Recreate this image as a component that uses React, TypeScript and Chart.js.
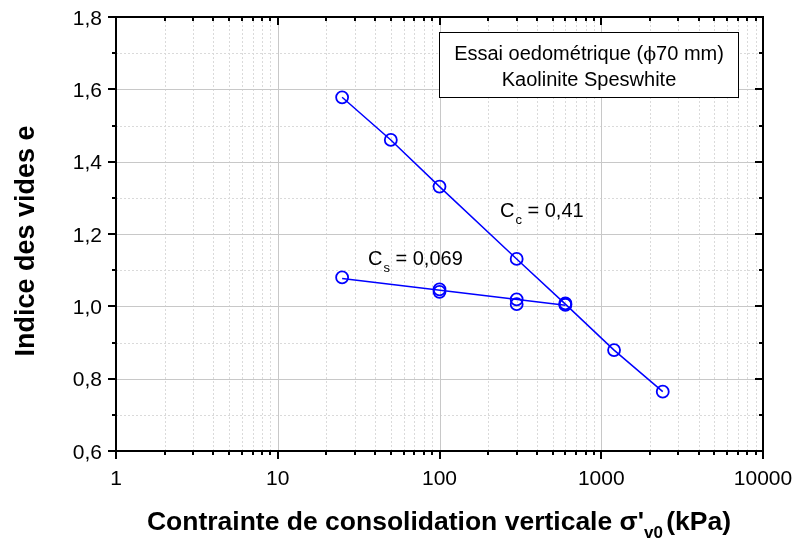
import React, { useEffect, useRef } from "react";
import { Chart, registerables } from "chart.js";

Chart.register(...registerables);

// ---- data ----
const loadStress = [25, 50, 100, 300, 600, 1200, 2400];
const loadVoid = [1.578, 1.46, 1.331, 1.131, 1.006, 0.879, 0.764];

const unloadStress = [600, 600, 300, 300, 100, 100, 25];
const unloadVoid = [1.008, 1.004, 1.019, 1.006, 1.047, 1.04, 1.08];

const unloadFitStress = [25, 600];
const unloadFitVoid = [1.077, 1.003];

const xTickValues = [1, 10, 100, 1000, 10000];
const xTickLabels = ["1", "10", "100", "1000", "10000"];
const yTickValues = [0.6, 0.8, 1.0, 1.2, 1.4, 1.6, 1.8];
const yTickLabels = ["0,6", "0,8", "1,0", "1,2", "1,4", "1,6", "1,8"];

const legendLine1 = ["Essai oedométrique (", "ϕ", "70 mm)"];
const legendLine2 = "Kaolinite Speswhite";
const ccLabel = ["C", "c", " = 0,41"];
const csLabel = ["C", "s", " = 0,069"];
const xTitle = ["Contrainte de consolidation verticale σ'", "v0", " (kPa)"];
const yTitle = "Indice des vides e";

const SANS = "'Liberation Sans', Arial, sans-serif";
const SERIF = "'DejaVu Serif', 'Liberation Serif', serif";
const BLUE = "#0000ff";

const toPts = (xs: number[], ys: number[]) => xs.map((v, i) => ({ x: v, y: ys[i] }));

function drawSubLabel(ctx: CanvasRenderingContext2D, parts: string[], x: number, y: number) {
  ctx.textBaseline = "middle";
  ctx.textAlign = "left";
  ctx.fillStyle = "#000";
  ctx.font = `20px ${SANS}`;
  ctx.fillText(parts[0], x, y);
  let cx = x + ctx.measureText(parts[0]).width;
  ctx.font = `13px ${SANS}`;
  ctx.fillText(parts[1], cx + 1, y + 9);
  cx += ctx.measureText(parts[1]).width + 1;
  ctx.font = `20px ${SANS}`;
  ctx.fillText(parts[2], cx, y);
}

const customPlugin = {
  id: "custom",
  beforeDatasetsDraw(chart: any) {
    const { ctx, chartArea: a, scales } = chart;
    const xs = scales.x;
    const ys = scales.y;
    ctx.save();
    ctx.lineWidth = 1;
    // minor grid dotted
    ctx.strokeStyle = "#dadada";
    ctx.setLineDash([2, 2]);
    for (let i = 0; i < xTickValues.length - 1; i++) {
      for (let m = 2; m <= 9; m++) {
        const px = Math.round(xs.getPixelForValue(xTickValues[i] * m)) + 0.5;
        ctx.beginPath();
        ctx.moveTo(px, a.top);
        ctx.lineTo(px, a.bottom);
        ctx.stroke();
      }
    }
    for (let i = 0; i < yTickValues.length - 1; i++) {
      const py = Math.round(ys.getPixelForValue((yTickValues[i] + yTickValues[i + 1]) / 2)) + 0.5;
      ctx.beginPath();
      ctx.moveTo(a.left, py);
      ctx.lineTo(a.right, py);
      ctx.stroke();
    }
    // major grid solid
    ctx.setLineDash([]);
    ctx.strokeStyle = "#c8c8c8";
    xTickValues.forEach((v) => {
      const px = Math.round(xs.getPixelForValue(v)) + 0.5;
      ctx.beginPath();
      ctx.moveTo(px, a.top);
      ctx.lineTo(px, a.bottom);
      ctx.stroke();
    });
    yTickValues.forEach((v) => {
      const py = Math.round(ys.getPixelForValue(v)) + 0.5;
      ctx.beginPath();
      ctx.moveTo(a.left, py);
      ctx.lineTo(a.right, py);
      ctx.stroke();
    });
    ctx.restore();
  },
  afterDatasetsDraw(chart: any) {
    const { ctx, chartArea: a, scales } = chart;
    const xs = scales.x;
    const ys = scales.y;
    ctx.save();
    // ticks
    ctx.strokeStyle = "#000";
    ctx.lineWidth = 2;
    const MAJ = 8;
    const MIN = 4;
    const xTick = (v: number, len: number) => {
      const px = Math.round(xs.getPixelForValue(v));
      ctx.beginPath();
      ctx.moveTo(px, a.bottom);
      ctx.lineTo(px, a.bottom + len);
      ctx.moveTo(px, a.top);
      ctx.lineTo(px, a.top + len);
      ctx.stroke();
    };
    const yTick = (v: number, len: number) => {
      const py = Math.round(ys.getPixelForValue(v));
      ctx.beginPath();
      ctx.moveTo(a.left, py);
      ctx.lineTo(a.left - len, py);
      ctx.moveTo(a.right, py);
      ctx.lineTo(a.right - len, py);
      ctx.stroke();
    };
    xTickValues.forEach((v) => xTick(v, MAJ));
    for (let i = 0; i < xTickValues.length - 1; i++) {
      for (let m = 2; m <= 9; m++) xTick(xTickValues[i] * m, MIN);
    }
    yTickValues.forEach((v) => yTick(v, MAJ));
    for (let i = 0; i < yTickValues.length - 1; i++) {
      yTick((yTickValues[i] + yTickValues[i + 1]) / 2, MIN);
    }
    // frame
    ctx.lineWidth = 2;
    ctx.strokeRect(a.left, a.top, a.right - a.left, a.bottom - a.top);

    // tick labels
    ctx.fillStyle = "#000";
    ctx.font = `21px ${SANS}`;
    ctx.textBaseline = "alphabetic";
    ctx.textAlign = "center";
    xTickValues.forEach((v, i) => {
      ctx.fillText(xTickLabels[i], xs.getPixelForValue(v), a.bottom + 34);
    });
    ctx.textAlign = "right";
    yTickValues.forEach((v, i) => {
      ctx.fillText(yTickLabels[i], a.left - 14, ys.getPixelForValue(v) + 7.5);
    });

    // legend box
    const bx = 439.5, by = 32.5, bw = 299, bh = 65;
    ctx.fillStyle = "#fff";
    ctx.fillRect(bx, by, bw, bh);
    ctx.lineWidth = 1;
    ctx.strokeStyle = "#000";
    ctx.strokeRect(bx, by, bw, bh);
    ctx.fillStyle = "#000";
    ctx.textBaseline = "middle";
    ctx.textAlign = "left";
    const cxm = bx + bw / 2;
    ctx.font = `20px ${SANS}`;
    const w0 = ctx.measureText(legendLine1[0]).width;
    const w2 = ctx.measureText(legendLine1[2]).width;
    ctx.font = `19px ${SERIF}`;
    const w1 = ctx.measureText(legendLine1[1]).width;
    const sx = cxm - (w0 + w1 + w2) / 2;
    ctx.font = `20px ${SANS}`;
    ctx.fillText(legendLine1[0], sx, 54);
    ctx.font = `19px ${SERIF}`;
    ctx.fillText(legendLine1[1], sx + w0, 55);
    ctx.font = `20px ${SANS}`;
    ctx.fillText(legendLine1[2], sx + w0 + w1, 54);
    ctx.textAlign = "center";
    ctx.fillText(legendLine2, cxm, 80);

    // slope labels
    drawSubLabel(ctx, ccLabel, 500, 211);
    drawSubLabel(ctx, csLabel, 368, 259);

    ctx.restore();
  },
  afterDraw(chart: any) {
    const { ctx } = chart;
    ctx.save();
    ctx.fillStyle = "#000";
    // x title
    ctx.textBaseline = "alphabetic";
    ctx.textAlign = "left";
    const big = `bold 26.5px ${SANS}`;
    const small = `bold 17px ${SANS}`;
    ctx.font = big;
    const t0 = ctx.measureText(xTitle[0]).width;
    const t2 = ctx.measureText(xTitle[2]).width;
    ctx.font = small;
    const t1 = ctx.measureText(xTitle[1]).width;
    const total = t0 + t1 + t2 - 4;
    const cx = 439;
    const x0 = cx - total / 2;
    const base = 530;
    ctx.font = big;
    ctx.fillText(xTitle[0], x0, base);
    ctx.font = small;
    ctx.fillText(xTitle[1], x0 + t0, base + 8);
    ctx.font = big;
    ctx.fillText(xTitle[2], x0 + t0 + t1 - 4, base);
    // y title
    ctx.translate(34, 241);
    ctx.rotate(-Math.PI / 2);
    ctx.textAlign = "center";
    ctx.font = `bold 27px ${SANS}`;
    ctx.fillText(yTitle, 0, 0);
    ctx.restore();
  },
};

export default function App() {
  const ref = useRef<HTMLCanvasElement | null>(null);
  useEffect(() => {
    if (!ref.current) return;
    const chart = new Chart(ref.current, {
      type: "scatter",
      data: {
        datasets: [
          {
            label: "unload fit",
            data: toPts(unloadFitStress, unloadFitVoid),
            showLine: true,
            borderColor: BLUE,
            borderWidth: 1.5,
            pointRadius: 0,
            fill: false,
          },
          {
            label: "chargement",
            data: toPts(loadStress, loadVoid),
            showLine: true,
            borderColor: BLUE,
            borderWidth: 1.5,
            pointRadius: 6,
            pointBorderWidth: 1.8,
            pointBackgroundColor: "rgba(0,0,0,0)",
            pointBorderColor: BLUE,
            fill: false,
          },
          {
            label: "déchargement",
            data: toPts(unloadStress, unloadVoid),
            showLine: false,
            pointRadius: 6,
            pointBorderWidth: 1.8,
            pointBackgroundColor: "rgba(0,0,0,0)",
            pointBorderColor: BLUE,
          },
        ],
      },
      options: {
        animation: false,
        responsive: false,
        devicePixelRatio: 1,
        layout: { padding: { left: 0, top: 17, right: 37, bottom: 0 } },
        plugins: { legend: { display: false }, tooltip: { enabled: false } },
        scales: {
          x: {
            type: "logarithmic",
            min: 1,
            max: 10000,
            grid: { display: false, drawTicks: false },
            border: { display: false },
            ticks: { display: false },
            afterFit: (s: any) => {
              s.height = 92;
            },
          },
          y: {
            type: "linear",
            min: 0.6,
            max: 1.8,
            grid: { display: false, drawTicks: false },
            border: { display: false },
            ticks: { display: false },
            afterFit: (s: any) => {
              s.width = 116;
            },
          },
        },
      },
      plugins: [customPlugin],
    } as any);
    return () => chart.destroy();
  }, []);
  return (
    <div style={{ position: "absolute", left: 0, top: 0, width: 800, height: 543, background: "#fff" }}>
      <canvas ref={ref} width={800} height={543} style={{ width: 800, height: 543, display: "block" }} />
    </div>
  );
}
